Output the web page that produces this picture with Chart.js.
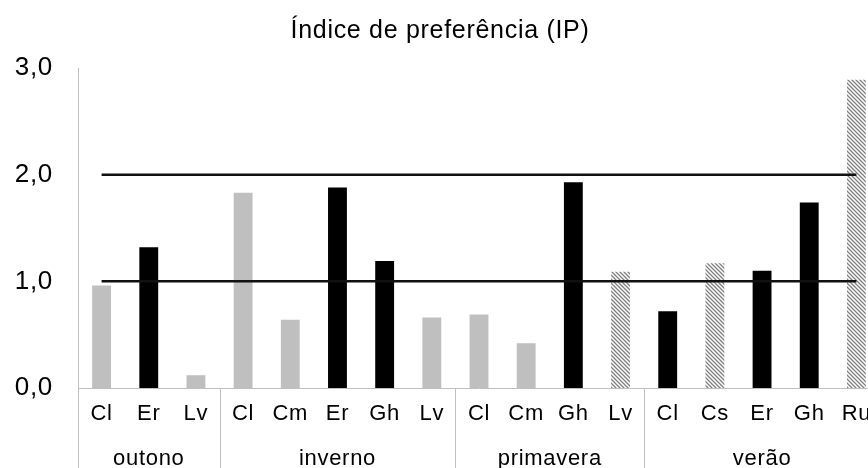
<!DOCTYPE html>
<html>
<head>
<meta charset="utf-8">
<script src="https://cdn.jsdelivr.net/npm/chart.js@4"></script>
<style>
  body { margin: 0; overflow: hidden; background: #fff; }
  #wrap { width: 910px; height: 468px; }
</style>
</head>
<body>
<div id="wrap"><canvas id="chart" width="910" height="468"></canvas></div>
<script>
// Data
const categories = ['Cl', 'Er', 'Lv', 'Cl', 'Cm', 'Er', 'Gh', 'Lv', 'Cl', 'Cm', 'Gh', 'Lv', 'Cl', 'Cs', 'Er', 'Gh', 'Ru'];
const seasons = ['outono', 'inverno', 'primavera', 'verão'];
const seasonSizes = [3, 5, 4, 5];
// three bar series (grey, black, hatched), null where a bar belongs to another series
const greyValues = [0.96, null, 0.12, 1.83, 0.64, null, null, 0.66, 0.69, 0.42, null, null, null, null, null, null, null];
const blackValues = [null, 1.32, null, null, null, 1.88, 1.19, null, null, null, 1.93, null, 0.72, null, 1.10, 1.74, null];
const hatchValues = [null, null, null, null, null, null, null, null, null, null, null, 1.09, null, 1.17, null, null, 2.89];
const refLines = [1, 2];
const yTicks = [0, 1, 2, 3];

const FONT = "'Liberation Sans', Arial, sans-serif";

function hatch() {
  const c = document.createElement('canvas');
  c.width = 4; c.height = 4;
  const g = c.getContext('2d');
  g.fillStyle = '#fff';
  g.fillRect(0, 0, 4, 4);
  g.strokeStyle = '#7f7f7f';
  g.lineWidth = 1.3;
  g.beginPath();
  g.moveTo(-1, -1); g.lineTo(5, 5);
  g.moveTo(-1, 3); g.lineTo(1, 5);
  g.moveTo(3, -1); g.lineTo(5, 1);
  g.stroke();
  return g.createPattern(c, 'repeat');
}

// spacing + season labels under the category axis
const seasonAxis = {
  id: 'seasonAxis',
  beforeDraw(chart) {
    chart.ctx.letterSpacing = '0.7px';
  },
  afterDraw(chart) {
    const ctx = chart.ctx;
    const x = chart.scales.x;
    const bottom = chart.chartArea.bottom;
    ctx.save();
    ctx.strokeStyle = '#bfbfbf';
    ctx.lineWidth = 1;
    ctx.fillStyle = '#000';
    ctx.font = '22px ' + FONT;
    ctx.textAlign = 'center';
    ctx.textBaseline = 'alphabetic';
    let start = 0;
    seasons.forEach((s, i) => {
      const px = Math.round(x.getPixelForValue(start - 0.5)) + 0.5;
      ctx.beginPath();
      ctx.moveTo(px, bottom);
      ctx.lineTo(px, chart.height);
      ctx.stroke();
      ctx.fillText(s, x.getPixelForValue(start + (seasonSizes[i] - 1) / 2), 465);
      start += seasonSizes[i];
    });
    const pe = Math.round(x.getPixelForValue(start - 0.5)) + 0.5;
    ctx.beginPath();
    ctx.moveTo(pe, bottom);
    ctx.lineTo(pe, chart.height);
    ctx.stroke();
    ctx.restore();
  }
};

const barOpts = { barPercentage: 0.4, categoryPercentage: 1.0, grouped: false, order: 2, borderWidth: 0 };
const firstCat = categories[0];
const lastCat = categories[categories.length - 1];

new Chart(document.getElementById('chart'), {
  type: 'bar',
  data: {
    labels: categories,
    datasets: [
      Object.assign({ label: 'cinza', data: greyValues, backgroundColor: '#bfbfbf' }, barOpts),
      Object.assign({ label: 'preto', data: blackValues, backgroundColor: '#000000' }, barOpts),
      Object.assign({ label: 'tracejado', data: hatchValues, backgroundColor: hatch() }, barOpts),
      ...refLines.map(v => ({
        type: 'line',
        label: 'IP = ' + v,
        data: [{ x: firstCat, y: v }, { x: lastCat, y: v }],
        borderColor: '#111',
        borderWidth: 2.5,
        pointRadius: 0,
        order: 0
      }))
    ]
  },
  options: {
    responsive: false,
    animation: false,
    layout: { padding: { left: 0, right: 30, top: 0, bottom: 0 } },
    plugins: {
      legend: { display: false },
      tooltip: { enabled: false },
      title: {
        display: true,
        text: 'Índice de preferência (IP)',
        color: '#000',
        font: { family: FONT, size: 25, weight: 'normal' },
        padding: { top: 16, bottom: 22 }
      }
    },
    scales: {
      x: {
        offset: true,
        grid: { display: false, drawTicks: false },
        border: { display: true, color: '#bfbfbf', width: 1 },
        ticks: {
          color: '#000',
          font: { family: FONT, size: 22 },
          padding: 13,
          autoSkip: false,
          maxRotation: 0
        },
        afterFit(scale) { scale.height = 80; }
      },
      y: {
        min: 0,
        max: 3,
        afterBuildTicks(scale) { scale.ticks = yTicks.map(v => ({ value: v })); },
        grid: { display: false, drawTicks: false },
        border: { display: true, color: '#bfbfbf', width: 1 },
        ticks: {
          color: '#000',
          font: { family: FONT, size: 26 },
          padding: 25,
          callback: v => v.toFixed(1).replace('.', ',')
        },
        afterFit(scale) { scale.width = 78; }
      }
    }
  },
  plugins: [seasonAxis]
});
</script>
</body>
</html>
